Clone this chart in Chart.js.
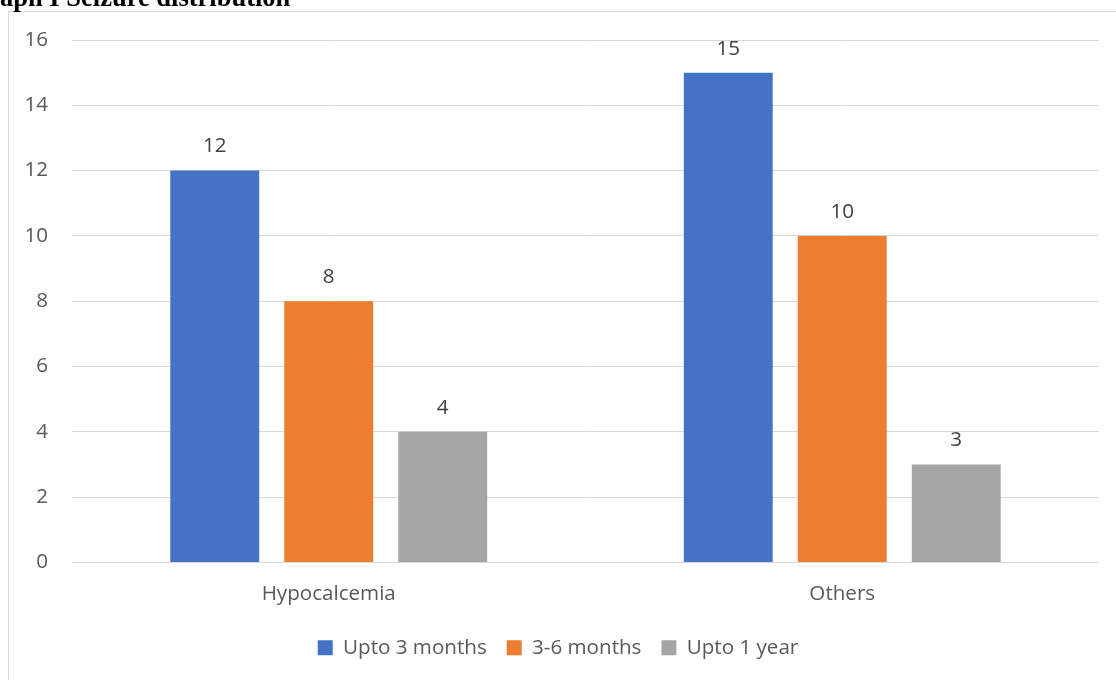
<!DOCTYPE html>
<html>
<head>
<meta charset="utf-8">
<script src="https://cdn.jsdelivr.net/npm/chart.js@4"></script>
<style>
  html, body { margin: 0; padding: 0; background: #ffffff; }
  body { width: 1116px; height: 680px; position: relative; overflow: hidden; }
  #frame {
    position: absolute; left: 8px; top: 11px; width: 1120px; height: 700px;
    border-left: 1px solid #d9d9d9; border-top: 1px solid #d9d9d9; box-sizing: border-box;
  }
  #title {
    position: absolute; left: 0; top: -15.6px; margin: 0;
    font: bold 26.5px "Liberation Serif", "Times New Roman", serif; line-height: 27px;
    color: #000000; white-space: nowrap; z-index: 2;
  }
  #wrap { position: absolute; left: 0; top: 0; width: 1116px; height: 680px; }
  canvas { display: block; }
</style>
</head>
<body>
<div id="frame"></div>
<div id="wrap"><canvas id="chart" width="1116" height="680"></canvas></div>
<div id="title">aph I Seizure distribution</div>
<script>
// Seizure counts by cause and age group
const categories = ["Hypocalcemia", "Others"];
const seriesNames = ["Upto 3 months", "3-6 months", "Upto 1 year"];
const upto3Months = [12, 15];
const months3to6 = [8, 10];
const upto1Year = [4, 3];
const yTicks = [0, 2, 4, 6, 8, 10, 12, 14, 16];

const colors = ["#4472C4", "#ED7D31", "#A5A5A5"];
const FONT = '"Open Sans", "Segoe UI", sans-serif';
const FONT_SIZE = 20.6;

// Value labels above each bar
const valueLabels = {
  id: "valueLabels",
  afterDatasetsDraw(chart) {
    const ctx = chart.ctx;
    ctx.save();
    ctx.font = FONT_SIZE + "px " + FONT;
    ctx.fillStyle = "#404040";
    ctx.textAlign = "center";
    ctx.textBaseline = "middle";
    chart.data.datasets.forEach((ds, i) => {
      chart.getDatasetMeta(i).data.forEach((bar, j) => {
        ctx.fillText(String(ds.data[j]), bar.x, bar.y - 24);
      });
    });
    ctx.restore();
  }
};

new Chart(document.getElementById("chart"), {
  type: "bar",
  data: {
    labels: categories,
    datasets: [
      { label: seriesNames[0], data: upto3Months, backgroundColor: colors[0] },
      { label: seriesNames[1], data: months3to6, backgroundColor: colors[1] },
      { label: seriesNames[2], data: upto1Year, backgroundColor: colors[2] }
    ]
  },
  options: {
    responsive: false,
    maintainAspectRatio: false,
    animation: false,
    devicePixelRatio: 1,
    layout: { padding: { top: 40, right: 17, bottom: 12, left: 17 } },
    datasets: { bar: { categoryPercentage: 0.666, barPercentage: 0.78, borderWidth: 0 } },
    scales: {
      x: {
        grid: { display: false, drawTicks: false },
        border: { display: false },
        ticks: { color: "#595959", font: { family: FONT, size: FONT_SIZE }, padding: 19, maxRotation: 0 },
        afterFit(scale) { scale.height = 55; }
      },
      y: {
        min: 0, max: 16,
        afterBuildTicks(scale) { scale.ticks = yTicks.map(v => ({ value: v })); },
        grid: { color: "#d9d9d9", lineWidth: 1, drawTicks: false },
        border: { display: false },
        ticks: { color: "#595959", font: { family: FONT, size: FONT_SIZE }, padding: 24 },
        afterFit(scale) { scale.width = 55; }
      }
    },
    plugins: {
      legend: {
        position: "bottom",
        labels: {
          boxWidth: 15, boxHeight: 15, padding: 20,
          color: "#595959", font: { family: FONT, size: FONT_SIZE }
        }
      },
      tooltip: { enabled: false },
      title: { display: false }
    }
  },
  plugins: [valueLabels]
});
</script>
</body>
</html>
